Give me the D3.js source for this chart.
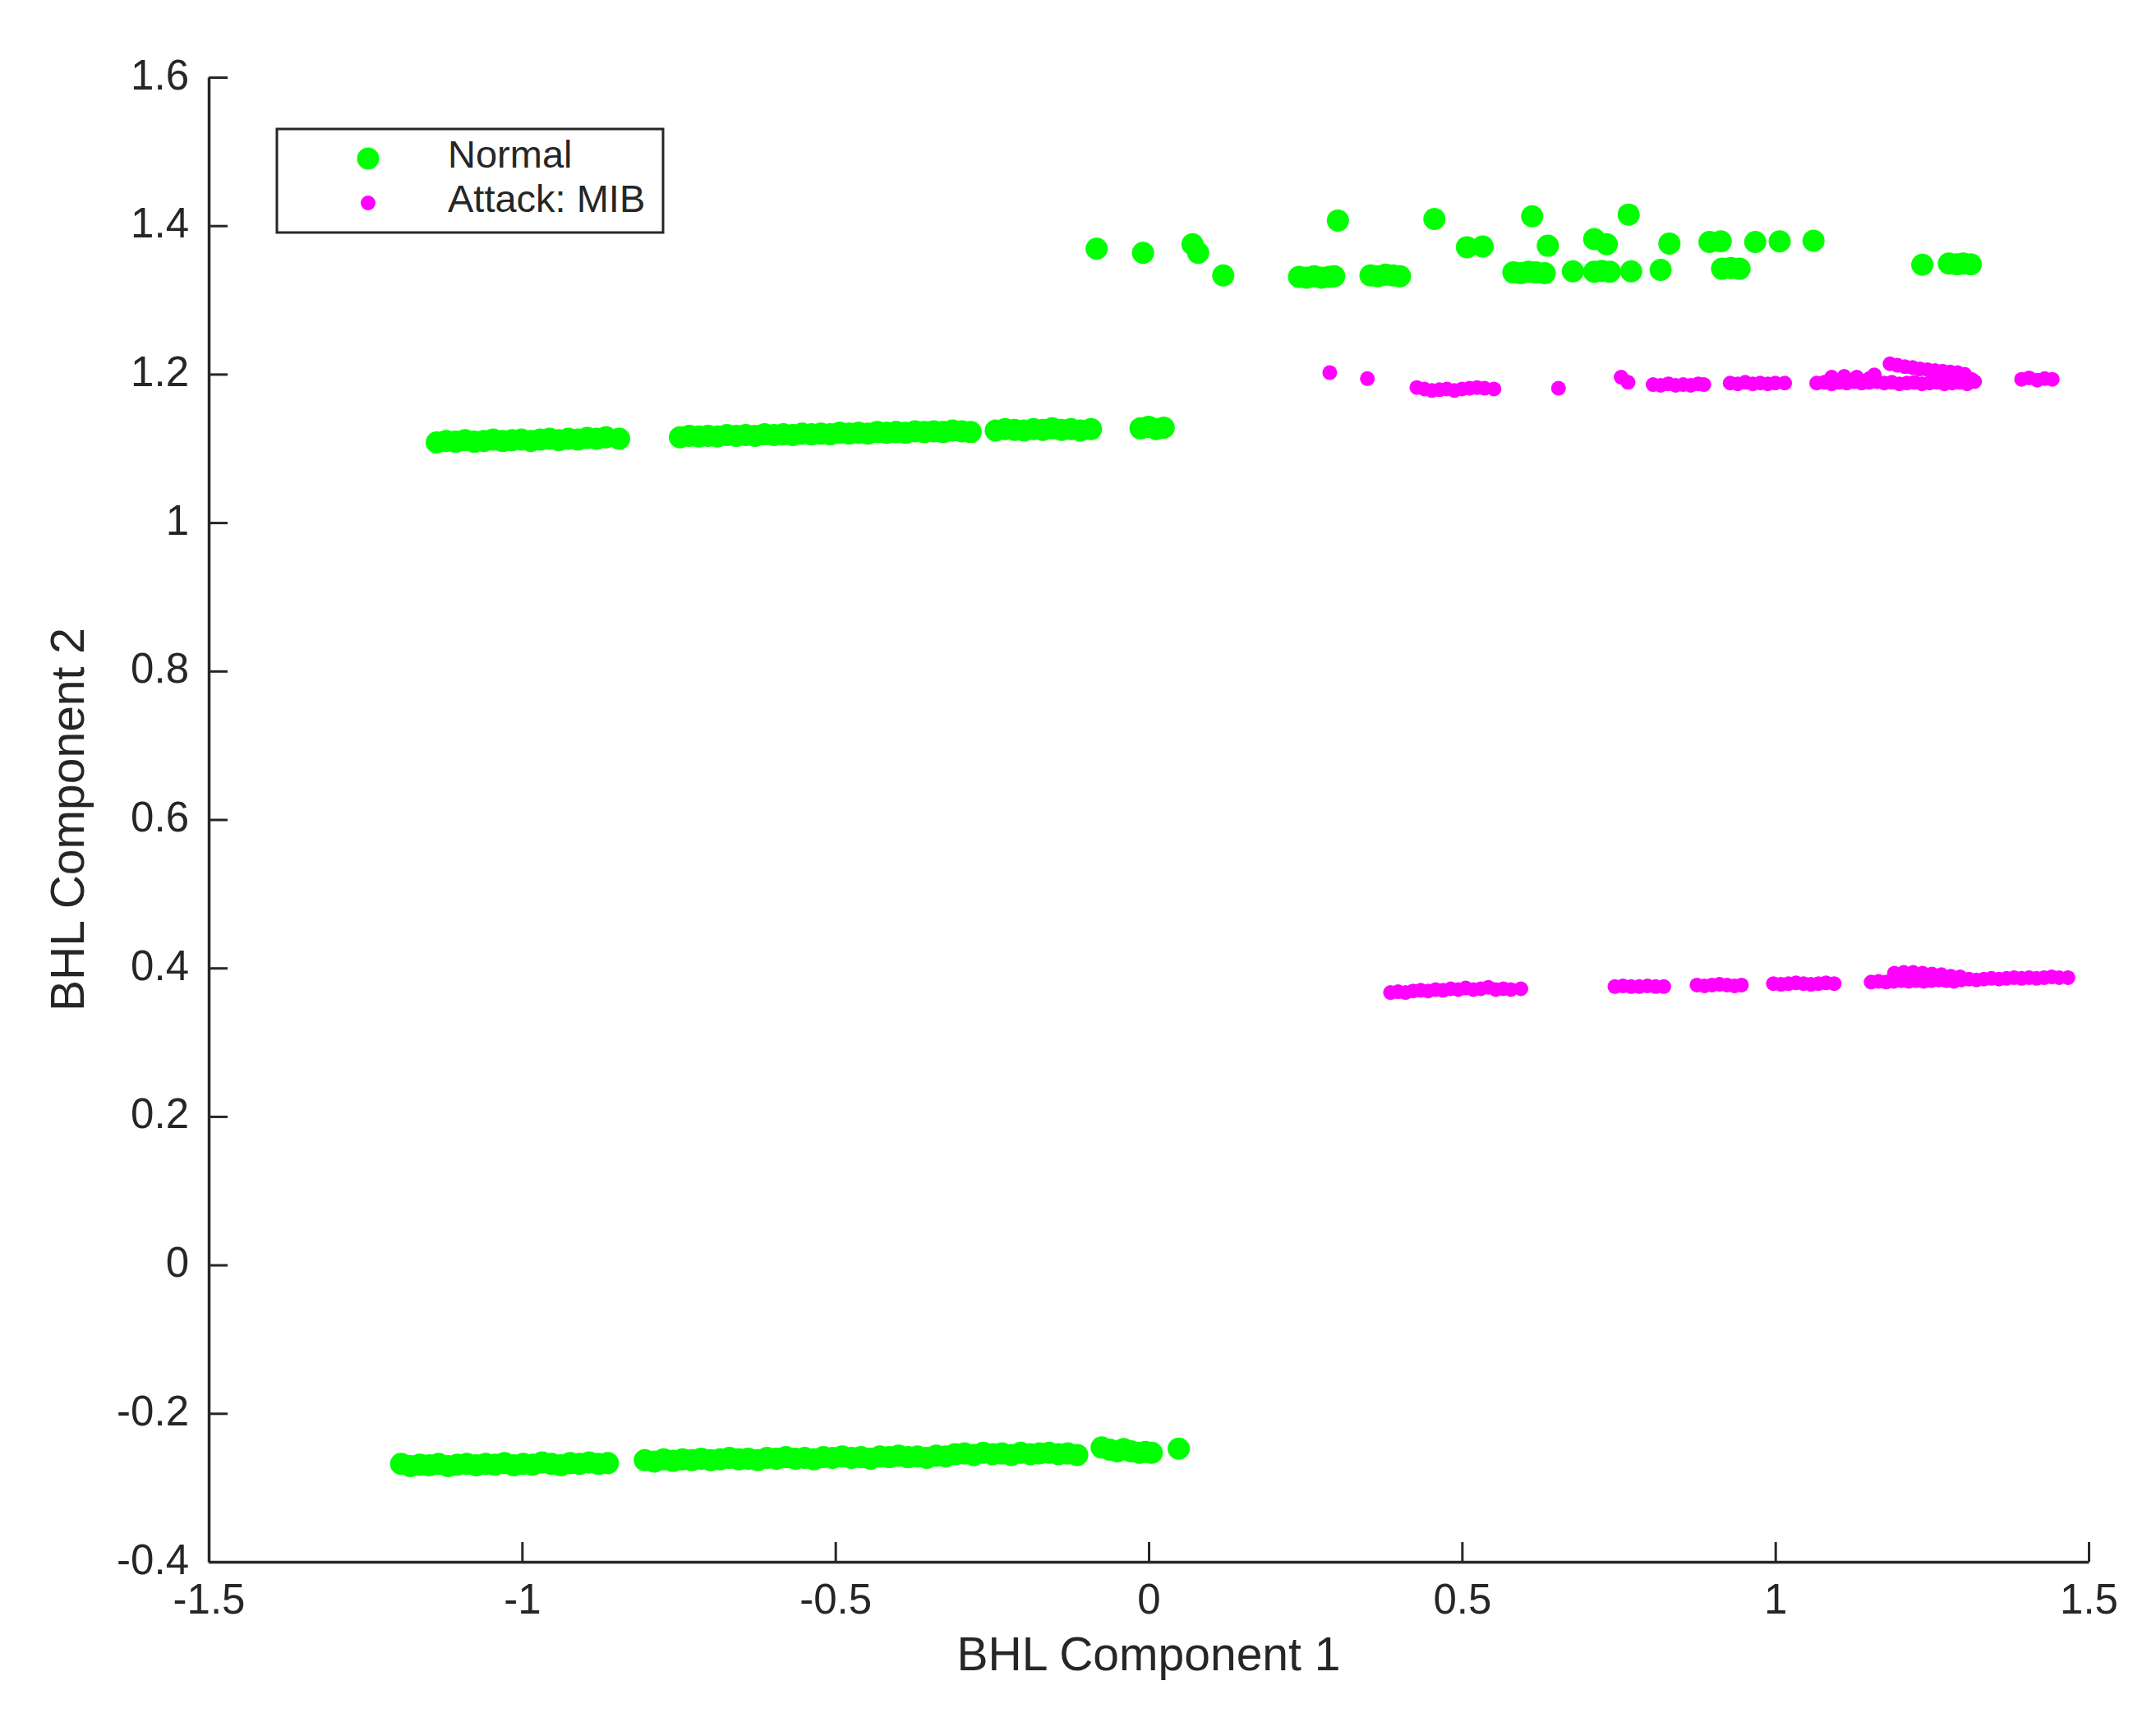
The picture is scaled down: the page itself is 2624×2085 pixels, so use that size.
<!DOCTYPE html>
<html>
<head>
<meta charset="utf-8">
<script src="https://cdn.jsdelivr.net/npm/d3@7"></script>
<style>
body { margin: 0; background: white; }
text { font-family: "Liberation Sans", Arial, sans-serif; fill: #262626; }
</style>
</head>
<body>
<div id="chart"></div>
<script>
// Axis ticks and labels
var xTicks = [-1.5, -1, -0.5, 0, 0.5, 1, 1.5];
var yTicks = [-0.4, -0.2, 0, 0.2, 0.4, 0.6, 0.8, 1, 1.2, 1.4, 1.6];
var xTitle = "BHL Component 1";
var yTitle = "BHL Component 2";
var seriesNames = ["Normal", "Attack: MIB"];

// Normal points [x, y] - lower band
var normalLow = [
  [-1.193,-0.268],[-1.178,-0.271],[-1.163,-0.269],[-1.148,-0.270],[-1.133,-0.268],[-1.118,-0.271],
  [-1.103,-0.269],[-1.088,-0.268],[-1.073,-0.270],[-1.058,-0.268],[-1.043,-0.269],[-1.028,-0.267],
  [-1.013,-0.270],[-0.998,-0.268],[-0.983,-0.269],[-0.968,-0.266],[-0.953,-0.268],[-0.938,-0.270],
  [-0.923,-0.267],[-0.908,-0.268],[-0.893,-0.266],[-0.878,-0.268],[-0.863,-0.267],
  [-0.804,-0.263],[-0.789,-0.265],[-0.774,-0.262],[-0.759,-0.264],[-0.744,-0.262],[-0.729,-0.263],
  [-0.714,-0.261],[-0.699,-0.263],[-0.684,-0.262],[-0.669,-0.260],[-0.654,-0.262],[-0.639,-0.261],
  [-0.624,-0.263],[-0.609,-0.260],[-0.594,-0.261],[-0.579,-0.259],[-0.564,-0.261],[-0.549,-0.260],
  [-0.534,-0.262],[-0.519,-0.259],[-0.504,-0.260],[-0.489,-0.258],[-0.474,-0.260],[-0.459,-0.259],
  [-0.444,-0.261],[-0.429,-0.258],[-0.414,-0.259],[-0.399,-0.257],[-0.384,-0.259],[-0.369,-0.258],
  [-0.354,-0.260],[-0.339,-0.257],[-0.324,-0.258],[-0.309,-0.255],[-0.294,-0.254],[-0.279,-0.256],
  [-0.264,-0.253],[-0.249,-0.255],[-0.234,-0.254],[-0.219,-0.256],[-0.204,-0.253],[-0.189,-0.255],
  [-0.174,-0.254],[-0.159,-0.253],[-0.144,-0.255],[-0.129,-0.254],[-0.114,-0.256],
  [-0.075,-0.246],[-0.062,-0.249],[-0.050,-0.251],[-0.040,-0.248],[-0.028,-0.251],[-0.015,-0.253],
  [-0.005,-0.252],[0.005,-0.253],[0.048,-0.2475]
];

// Normal points - middle band
var normalMid = [
  [-1.136,1.108],[-1.121,1.110],[-1.106,1.109],[-1.091,1.111],[-1.076,1.109],[-1.061,1.110],
  [-1.046,1.112],[-1.031,1.110],[-1.016,1.111],[-1.001,1.112],[-0.986,1.110],[-0.971,1.112],
  [-0.956,1.113],[-0.941,1.111],[-0.926,1.113],[-0.911,1.112],[-0.896,1.114],[-0.881,1.113],
  [-0.866,1.115],[-0.845,1.113],
  [-0.748,1.115],[-0.733,1.117],[-0.718,1.116],[-0.703,1.117],[-0.688,1.116],[-0.673,1.118],
  [-0.658,1.117],[-0.643,1.118],[-0.628,1.117],[-0.613,1.119],[-0.598,1.118],[-0.583,1.119],
  [-0.568,1.118],[-0.553,1.120],[-0.538,1.119],[-0.523,1.120],[-0.508,1.119],[-0.493,1.121],
  [-0.478,1.120],[-0.463,1.121],[-0.448,1.120],[-0.433,1.122],[-0.418,1.121],[-0.403,1.122],
  [-0.388,1.121],[-0.373,1.123],[-0.358,1.122],[-0.343,1.123],[-0.328,1.122],[-0.313,1.124],
  [-0.298,1.123],[-0.284,1.122],
  [-0.244,1.124],[-0.229,1.126],[-0.214,1.125],[-0.199,1.124],[-0.184,1.126],[-0.169,1.125],
  [-0.154,1.127],[-0.139,1.125],[-0.124,1.126],[-0.109,1.124],[-0.092,1.126],
  [-0.013,1.127],[0.000,1.129],[0.012,1.126],[0.024,1.128]
];

// Normal points - upper scatter
var normalHigh = [
  [-0.083,1.369],[-0.009,1.3635],[0.070,1.375],[0.079,1.3635],[0.119,1.333],[0.302,1.407],
  [0.240,1.331],[0.252,1.330],[0.264,1.332],[0.276,1.330],[0.288,1.331],[0.296,1.332],
  [0.354,1.333],[0.366,1.332],[0.378,1.334],[0.390,1.333],[0.401,1.332],
  [0.456,1.409],[0.508,1.371],[0.533,1.372],[0.612,1.4126],
  [0.582,1.337],[0.594,1.336],[0.606,1.338],[0.618,1.337],[0.632,1.336],
  [0.637,1.373],[0.677,1.3385],[0.711,1.382],[0.731,1.375],
  [0.711,1.338],[0.723,1.339],[0.736,1.338],
  [0.770,1.3385],[0.766,1.415],[0.817,1.3405],[0.831,1.376],[0.895,1.378],[0.913,1.379],
  [0.915,1.342],[0.929,1.343],[0.943,1.342],
  [0.968,1.378],[1.007,1.379],[1.061,1.3797],[1.2346,1.3473],
  [1.277,1.349],[1.290,1.348],[1.300,1.349],[1.312,1.348]
];

// Attack points - upper band
var attackHigh = [
  [0.289,1.202],[0.349,1.194],
  [0.428,1.182],[0.440,1.180],[0.452,1.178],[0.464,1.179],[0.476,1.180],[0.488,1.178],
  [0.500,1.180],[0.512,1.181],[0.524,1.182],[0.536,1.181],[0.551,1.180],
  [0.654,1.181],
  [0.754,1.196],[0.765,1.189],
  [0.805,1.186],[0.817,1.185],[0.829,1.187],[0.841,1.185],[0.853,1.186],[0.865,1.185],
  [0.877,1.187],[0.886,1.186],
  [0.928,1.188],[0.940,1.187],[0.952,1.189],[0.964,1.187],[0.976,1.188],[0.988,1.187],
  [1.000,1.188],[1.015,1.188],
  [1.066,1.188],[1.078,1.189],[1.090,1.187],[1.102,1.189],[1.114,1.188],[1.126,1.190],
  [1.138,1.188],[1.150,1.189],[1.162,1.190],[1.174,1.188],[1.186,1.189],[1.198,1.187],
  [1.210,1.188],[1.222,1.189],[1.234,1.187],[1.246,1.188],[1.258,1.189],[1.270,1.187],
  [1.282,1.188],[1.294,1.189],[1.306,1.187],[1.318,1.190],
  [1.090,1.196],[1.110,1.197],[1.130,1.196],[1.150,1.194],[1.158,1.199],
  [1.183,1.214],[1.195,1.212],[1.207,1.210],[1.219,1.209],[1.231,1.207],[1.243,1.206],
  [1.255,1.205],[1.267,1.204],[1.279,1.203],[1.291,1.202],[1.302,1.200],
  [1.313,1.193],
  [1.393,1.193],[1.405,1.195],[1.418,1.192],[1.430,1.194],[1.442,1.193]
];

// Attack points - lower band
var attackLow = [
  [0.386,0.367],[0.398,0.368],[0.410,0.367],[0.422,0.369],[0.434,0.370],[0.446,0.369],
  [0.458,0.371],[0.470,0.370],[0.482,0.372],[0.494,0.371],[0.506,0.373],[0.518,0.371],
  [0.530,0.372],[0.542,0.374],[0.554,0.371],[0.566,0.372],[0.578,0.371],[0.594,0.372],
  [0.744,0.375],[0.757,0.376],[0.770,0.375],[0.783,0.375],[0.796,0.376],[0.809,0.375],[0.822,0.375],
  [0.875,0.377],[0.887,0.376],[0.899,0.377],[0.911,0.378],[0.923,0.377],[0.935,0.376],[0.946,0.377],
  [0.997,0.379],[1.009,0.378],[1.021,0.379],[1.033,0.380],[1.045,0.379],[1.057,0.378],
  [1.069,0.379],[1.081,0.380],[1.094,0.379],
  [1.153,0.381],[1.165,0.382],[1.177,0.381],[1.189,0.382],[1.201,0.383],[1.213,0.382],
  [1.225,0.383],[1.237,0.382],[1.249,0.383],[1.261,0.384],[1.273,0.383],[1.285,0.382],
  [1.297,0.384],[1.309,0.385],[1.321,0.384],[1.333,0.385],[1.345,0.386],[1.357,0.385],
  [1.369,0.386],[1.381,0.387],[1.393,0.386],[1.405,0.387],[1.417,0.386],[1.429,0.387],
  [1.441,0.388],[1.453,0.387],[1.467,0.387],
  [1.190,0.393],[1.205,0.394],[1.220,0.394],[1.235,0.393],[1.250,0.392],[1.265,0.391],
  [1.280,0.389],[1.295,0.388]
];

var normalPoints = normalLow.concat(normalMid, normalHigh);
var attackPoints = attackHigh.concat(attackLow);

// Size of the picture and plot box
var width = 2624;
var height = 2085;
var plotLeft = 254, plotRight = 2542, plotTop = 94, plotBottom = 1901;
var axisColor = "#262626";

var svg = d3.select("#chart")
    .append("svg")
    .attr("width", width)
    .attr("height", height)
    .style("background", "white");

var xScale = d3.scaleLinear().domain([-1.5, 1.5]).range([plotLeft, plotRight]);
var yScale = d3.scaleLinear().domain([-0.4, 1.6]).range([plotBottom, plotTop]);

// Scatter points: normal first, attack on top
svg.append("g").selectAll("circle")
    .data(normalPoints)
    .enter()
    .append("circle")
    .attr("cx", d => xScale(d[0]))
    .attr("cy", d => yScale(d[1]))
    .attr("r", 13.5)
    .attr("fill", "#00ff00");

svg.append("g").selectAll("circle")
    .data(attackPoints)
    .enter()
    .append("circle")
    .attr("cx", d => xScale(d[0]))
    .attr("cy", d => yScale(d[1]))
    .attr("r", 9)
    .attr("fill", "#ff00ff");

// Axes with inward ticks
var xAxis = d3.axisBottom(xScale)
    .tickValues(xTicks)
    .tickFormat(d => String(d))
    .tickSize(-24)
    .tickSizeOuter(0);

var yAxis = d3.axisLeft(yScale)
    .tickValues(yTicks)
    .tickFormat(d => String(d))
    .tickSize(-23)
    .tickSizeOuter(0);

var gx = svg.append("g")
    .attr("class", "xAxis")
    .attr("transform", `translate(0,${plotBottom})`)
    .call(xAxis);

var gy = svg.append("g")
    .attr("class", "yAxis")
    .attr("transform", `translate(${plotLeft},0)`)
    .call(yAxis);

[gx, gy].forEach(function(g) {
    g.select(".domain").attr("stroke", axisColor).attr("stroke-width", 3.5);
    g.selectAll(".tick line").attr("stroke", axisColor).attr("stroke-width", 3);
    g.selectAll(".tick text")
        .attr("fill", axisColor)
        .style("font-size", "51px")
        .style("font-family", '"Liberation Sans", Arial, sans-serif');
});

gx.selectAll(".tick text").attr("y", 63).attr("dy", null);
gy.selectAll(".tick text").attr("x", -24).attr("dy", "14px");

// Axis titles
svg.append("text")
    .text(xTitle)
    .attr("x", (plotLeft + plotRight) / 2)
    .attr("y", 2033)
    .attr("text-anchor", "middle")
    .style("font-size", "57px");

svg.append("text")
    .text(yTitle)
    .attr("transform", `translate(102,${(plotTop + plotBottom) / 2})rotate(-90)`)
    .attr("text-anchor", "middle")
    .style("font-size", "57px");

// Legend
var legend = svg.append("g").attr("class", "legend");
legend.append("rect")
    .attr("x", 337)
    .attr("y", 157)
    .attr("width", 470)
    .attr("height", 126)
    .attr("fill", "white")
    .attr("stroke", axisColor)
    .attr("stroke-width", 3);

var legendColors = ["#00ff00", "#ff00ff"];
var legendRadius = [13.5, 9];
seriesNames.forEach(function(name, i) {
    var cy = 193 + i * 54;
    legend.append("circle")
        .attr("cx", 448)
        .attr("cy", cy)
        .attr("r", legendRadius[i])
        .attr("fill", legendColors[i]);
    legend.append("text")
        .text(name)
        .attr("x", 545)
        .attr("y", cy + 11)
        .style("font-size", "47px");
});
</script>
</body>
</html>
